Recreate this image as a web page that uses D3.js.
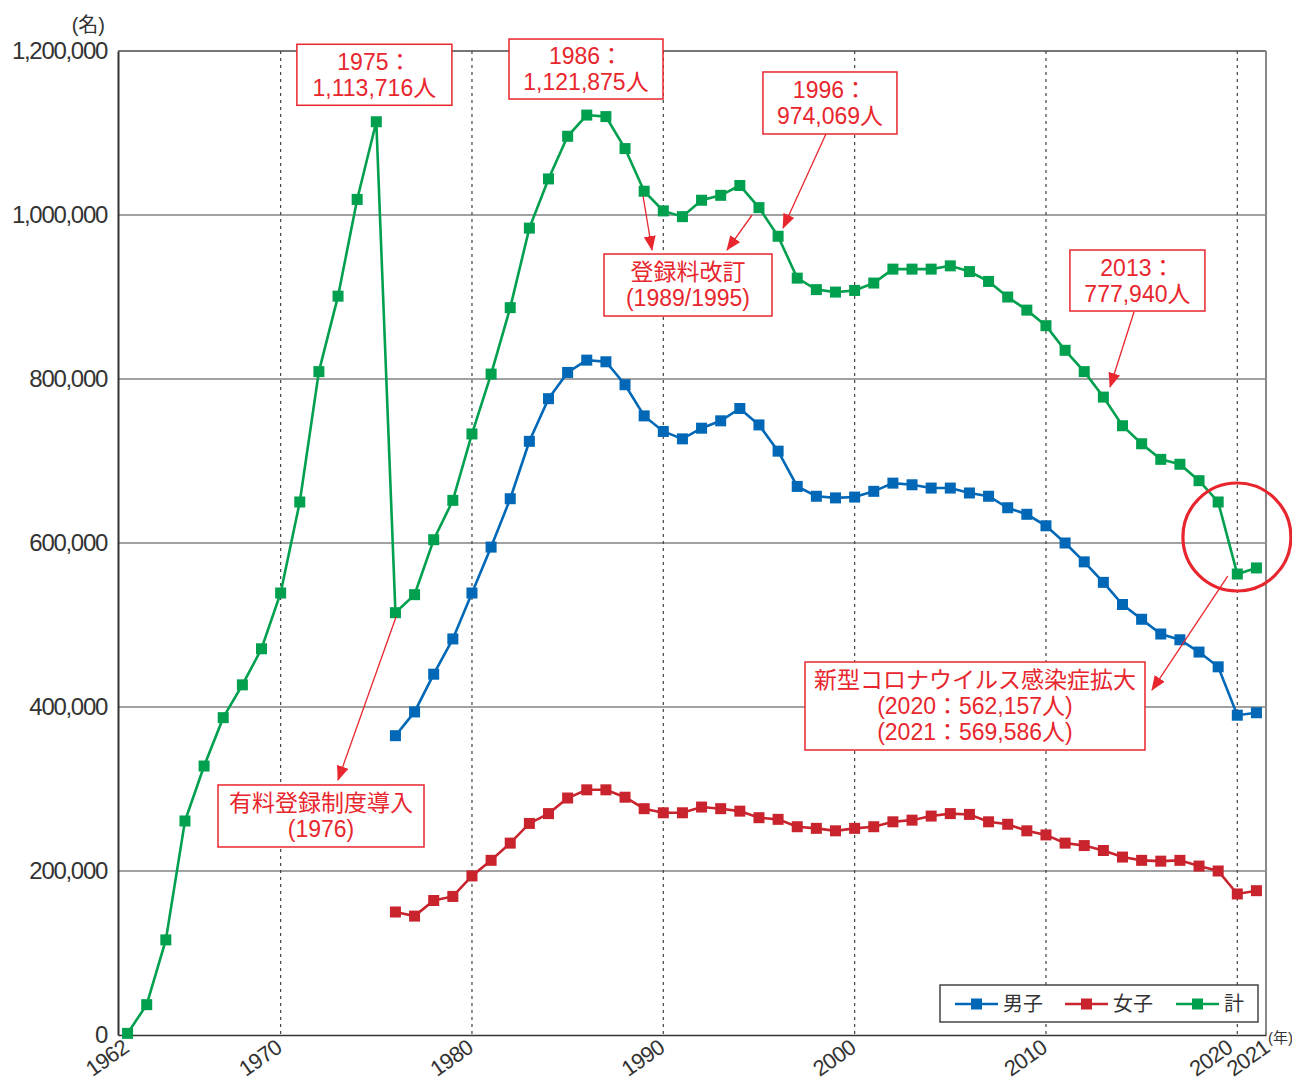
<!DOCTYPE html>
<html>
<head>
<meta charset="utf-8">
<script src="https://cdn.jsdelivr.net/npm/d3@7"></script>
<style>
  body { margin: 0; background: #fff; }
  svg { display: block; }
  text { font-family: "Liberation Sans", "Noto Sans CJK JP", sans-serif; }
</style>
</head>
<body>
<div id="chart"></div>
<script>
// 登録者数 (1962-2021)
let years = [1962,1963,1964,1965,1966,1967,1968,1969,1970,1971,1972,1973,1974,1975,1976,1977,1978,1979,1980,
  1981,1982,1983,1984,1985,1986,1987,1988,1989,1990,1991,1992,1993,1994,1995,1996,1997,1998,1999,2000,
  2001,2002,2003,2004,2005,2006,2007,2008,2009,2010,2011,2012,2013,2014,2015,2016,2017,2018,2019,2020,2021]

let totalValues = [2000,37000,116000,261000,328000,387000,427000,471000,539000,650000,809000,901000,1019000,1113716,
  515000,537000,604000,652000,733000,806000,887000,984000,1044000,1096000,1121875,1120000,1081000,1029000,1005000,
  998000,1018000,1024000,1036000,1009000,974069,923000,909000,906000,908000,917000,934000,934000,934000,938000,
  931000,919000,900000,884000,865000,835000,809000,777940,743000,721000,702000,696000,676000,650000,562157,569586]

// 男女別は1976年から
let splitYears = [1976,1977,1978,1979,1980,1981,1982,1983,1984,1985,1986,1987,1988,1989,1990,1991,1992,1993,1994,
  1995,1996,1997,1998,1999,2000,2001,2002,2003,2004,2005,2006,2007,2008,2009,2010,2011,2012,2013,2014,2015,2016,
  2017,2018,2019,2020,2021]

let maleValues = [365000,394000,440000,483000,539000,595000,654000,724000,776000,808000,823000,821000,793000,755000,
  736000,727000,740000,749000,764000,744000,712000,669000,657000,655000,656000,663000,673000,671000,667000,667000,
  661000,657000,643000,635000,621000,600000,577000,552000,525000,507000,489000,482000,467000,449000,390000,393000]

let femaleValues = [150000,145000,164000,169000,194000,213000,234000,258000,270000,289000,299000,299000,290000,276000,
  271000,271000,278000,276000,273000,265000,263000,254000,252000,249000,252000,254000,260000,262000,267000,270000,
  269000,260000,257000,249000,244000,234000,231000,225000,217000,213000,212000,213000,206000,200000,172000,176000]

let yTicks = [0,200000,400000,600000,800000,1000000,1200000]
let xTickYears = [1962,1970,1980,1990,2000,2010,2020,2021]
let decadeLines = [1970,1980,1990,2000,2010,2020]

let seriesNames = ["男子","女子","計"]
let seriesColors = ["#0068b7","#c9232d","#00a04e"]
let noteRed = "#e8262e"

// annotation boxes: anchored at (year, value) centre
let notes = [
  {lines:["1975：","1,113,716人"], year:1974.9, value:1171000, w:155, h:61},
  {lines:["1986：","1,121,875人"], year:1985.96, value:1178000, w:154, h:60},
  {lines:["1996：","974,069人"], year:1998.71, value:1136600, w:134, h:62},
  {lines:["登録料改訂","(1989/1995)"], year:1991.29, value:914600, w:168, h:62},
  {lines:["2013：","777,940人"], year:2014.78, value:920100, w:135, h:61},
  {lines:["新型コロナウイルス感染症拡大","(2020：562,157人)","(2021：569,586人)"], year:2006.29, value:401200, w:340, h:88},
  {lines:["有料登録制度導入","(1976)"], year:1972.11, value:267100, w:206, h:62}
]
let arrows = [
  {x1:1998.5, y1:1098800, x2:1996.26, y2:984100},
  {x1:1988.94, y1:1023200, x2:1989.41, y2:957300},
  {x1:1994.64, y1:1000000, x2:1993.33, y2:957300},
  {x1:2014.6, y1:881700, x2:2013.35, y2:790200},
  {x1:2019.5, y1:559700, x2:2015.54, y2:420700},
  {x1:1976.03, y1:509800, x2:1973.0, y2:311000}
]
let ring = {year:2019.98, value:607300, r:54}

let svg_width = 1292
let svg_height = 1084
let margin = {top: 51, right: 26, bottom: 49, left: 118}

let svg = d3.select("#chart")
  .append("svg")
  .attr("width", svg_width)
  .attr("height", svg_height)

let x = d3.scaleLinear()
  .domain([1961.5, 2021.5])
  .range([margin.left, svg_width - margin.right])

let y = d3.scaleLinear()
  .domain([0, 1200000])
  .range([svg_height - margin.bottom, margin.top])

// horizontal grid
svg.append("g")
  .selectAll("line")
  .data(yTicks.filter(d => d > 0))
  .enter()
  .append("line")
  .attr("x1", margin.left).attr("x2", svg_width - margin.right)
  .attr("y1", d => y(d)).attr("y2", d => y(d))
  .attr("stroke", d => d === 1200000 ? "#777" : "#444")
  .attr("stroke-width", d => d === 1200000 ? 2 : 1.2)

// dashed decade lines
svg.append("g")
  .selectAll("line")
  .data(decadeLines)
  .enter()
  .append("line")
  .attr("x1", d => x(d)).attr("x2", d => x(d))
  .attr("y1", y(1200000)).attr("y2", y(0))
  .attr("stroke", "#444")
  .attr("stroke-width", 1.2)
  .attr("stroke-dasharray", "3,4")

// right border
svg.append("line")
  .attr("x1", svg_width - margin.right).attr("x2", svg_width - margin.right)
  .attr("y1", y(1200000)).attr("y2", y(0))
  .attr("stroke", "#888").attr("stroke-width", 2)

// y axis
let yAxis = svg.append("g")
  .attr("transform", `translate(${margin.left},0)`)
  .call(d3.axisLeft(y).tickValues(yTicks).tickFormat(d3.format(",")).tickSize(0).tickPadding(11))
yAxis.select(".domain").attr("stroke", "#333").attr("stroke-width", 2)
yAxis.selectAll("text")
  .attr("fill", "#333")
  .style("font-size", "24px")
  .style("letter-spacing", "-1.3px")

// x axis (rotated labels, 2020/2021 nudged apart)
let labelShift = {2020: -6, 2021: 12}
let xAxis = svg.append("g")
  .attr("transform", `translate(0,${y(0)})`)
  .call(d3.axisBottom(x).tickValues(xTickYears).tickFormat(d => d).tickSize(0))
xAxis.select(".domain").attr("stroke", "#333").attr("stroke-width", 1.5)
xAxis.selectAll("text")
  .attr("y", 0).attr("dy", 0)
  .attr("text-anchor", "end")
  .attr("fill", "#333")
  .attr("transform", d => `translate(${(labelShift[d] || 0) + 2},16) rotate(-35)`)
  .style("font-size", "22px")
  .style("letter-spacing", "-0.8px")

svg.append("text")
  .attr("x", 105).attr("y", 32)
  .attr("text-anchor", "end")
  .attr("fill", "#333")
  .style("font-size", "20px")
  .text("(名)")

svg.append("text")
  .attr("x", 1268).attr("y", 1043)
  .attr("fill", "#333")
  .style("font-size", "15px")
  .text("(年)")

// series
let series = [
  {name: seriesNames[0], color: seriesColors[0], pts: splitYears.map((yr, i) => [yr, maleValues[i]])},
  {name: seriesNames[1], color: seriesColors[1], pts: splitYears.map((yr, i) => [yr, femaleValues[i]])},
  {name: seriesNames[2], color: seriesColors[2], pts: years.map((yr, i) => [yr, totalValues[i]])}
]

let line = d3.line()
  .x(d => x(d[0]))
  .y(d => y(d[1]))

let mk = 11
series.forEach(s => {
  let g = svg.append("g")
  g.append("path")
    .attr("d", line(s.pts))
    .attr("fill", "none")
    .attr("stroke", s.color)
    .attr("stroke-width", 2.6)
  g.selectAll("rect")
    .data(s.pts)
    .enter()
    .append("rect")
    .attr("x", d => x(d[0]) - mk / 2)
    .attr("y", d => y(d[1]) - mk / 2)
    .attr("width", mk).attr("height", mk)
    .attr("fill", s.color)
})

// legend
let legend = svg.append("g")
legend.append("rect")
  .attr("x", 940).attr("y", 985)
  .attr("width", 318).attr("height", 37)
  .attr("fill", "#fff")
  .attr("stroke", "#444")
  .attr("stroke-width", 1.5)
let legendX = [955, 1065, 1176]
series.forEach((s, i) => {
  let lx = legendX[i]
  legend.append("line")
    .attr("x1", lx).attr("x2", lx + 43)
    .attr("y1", 1004).attr("y2", 1004)
    .attr("stroke", s.color).attr("stroke-width", 2.6)
  legend.append("rect")
    .attr("x", lx + 21.5 - mk / 2).attr("y", 1004 - mk / 2)
    .attr("width", mk).attr("height", mk)
    .attr("fill", s.color)
  legend.append("text")
    .attr("x", lx + 48).attr("y", 1011)
    .attr("fill", "#333")
    .style("font-size", "20px")
    .style("font-family", "'Noto Sans CJK JP', sans-serif")
    .text(s.name)
})

// annotations
svg.append("defs").append("marker")
  .attr("id", "arrowhead")
  .attr("markerUnits", "userSpaceOnUse")
  .attr("markerWidth", 15).attr("markerHeight", 12)
  .attr("refX", 14).attr("refY", 6)
  .attr("orient", "auto")
  .append("path")
  .attr("d", "M0,0 L15,6 L0,12 Z")
  .attr("fill", noteRed)

svg.append("g")
  .selectAll("line")
  .data(arrows)
  .enter()
  .append("line")
  .attr("x1", d => x(d.x1)).attr("y1", d => y(d.y1))
  .attr("x2", d => x(d.x2)).attr("y2", d => y(d.y2))
  .attr("stroke", noteRed)
  .attr("stroke-width", 1.3)
  .attr("marker-end", "url(#arrowhead)")

notes.forEach(n => {
  let cx = x(n.year), cy = y(n.value)
  let g = svg.append("g")
  g.append("rect")
    .attr("x", cx - n.w / 2).attr("y", cy - n.h / 2)
    .attr("width", n.w).attr("height", n.h)
    .attr("fill", "#fff")
    .attr("stroke", noteRed)
    .attr("stroke-width", 1.5)
  let lh = 26
  let top = cy - (n.lines.length * lh) / 2
  n.lines.forEach((t, i) => {
    g.append("text")
      .attr("x", cx).attr("y", top + lh * i + 21)
      .attr("text-anchor", "middle")
      .attr("fill", noteRed)
      .style("font-size", "23px")
      .text(t)
  })
})

svg.append("circle")
  .attr("cx", x(ring.year)).attr("cy", y(ring.value))
  .attr("r", ring.r)
  .attr("fill", "none")
  .attr("stroke", noteRed)
  .attr("stroke-width", 3.2)
</script>
</body>
</html>
